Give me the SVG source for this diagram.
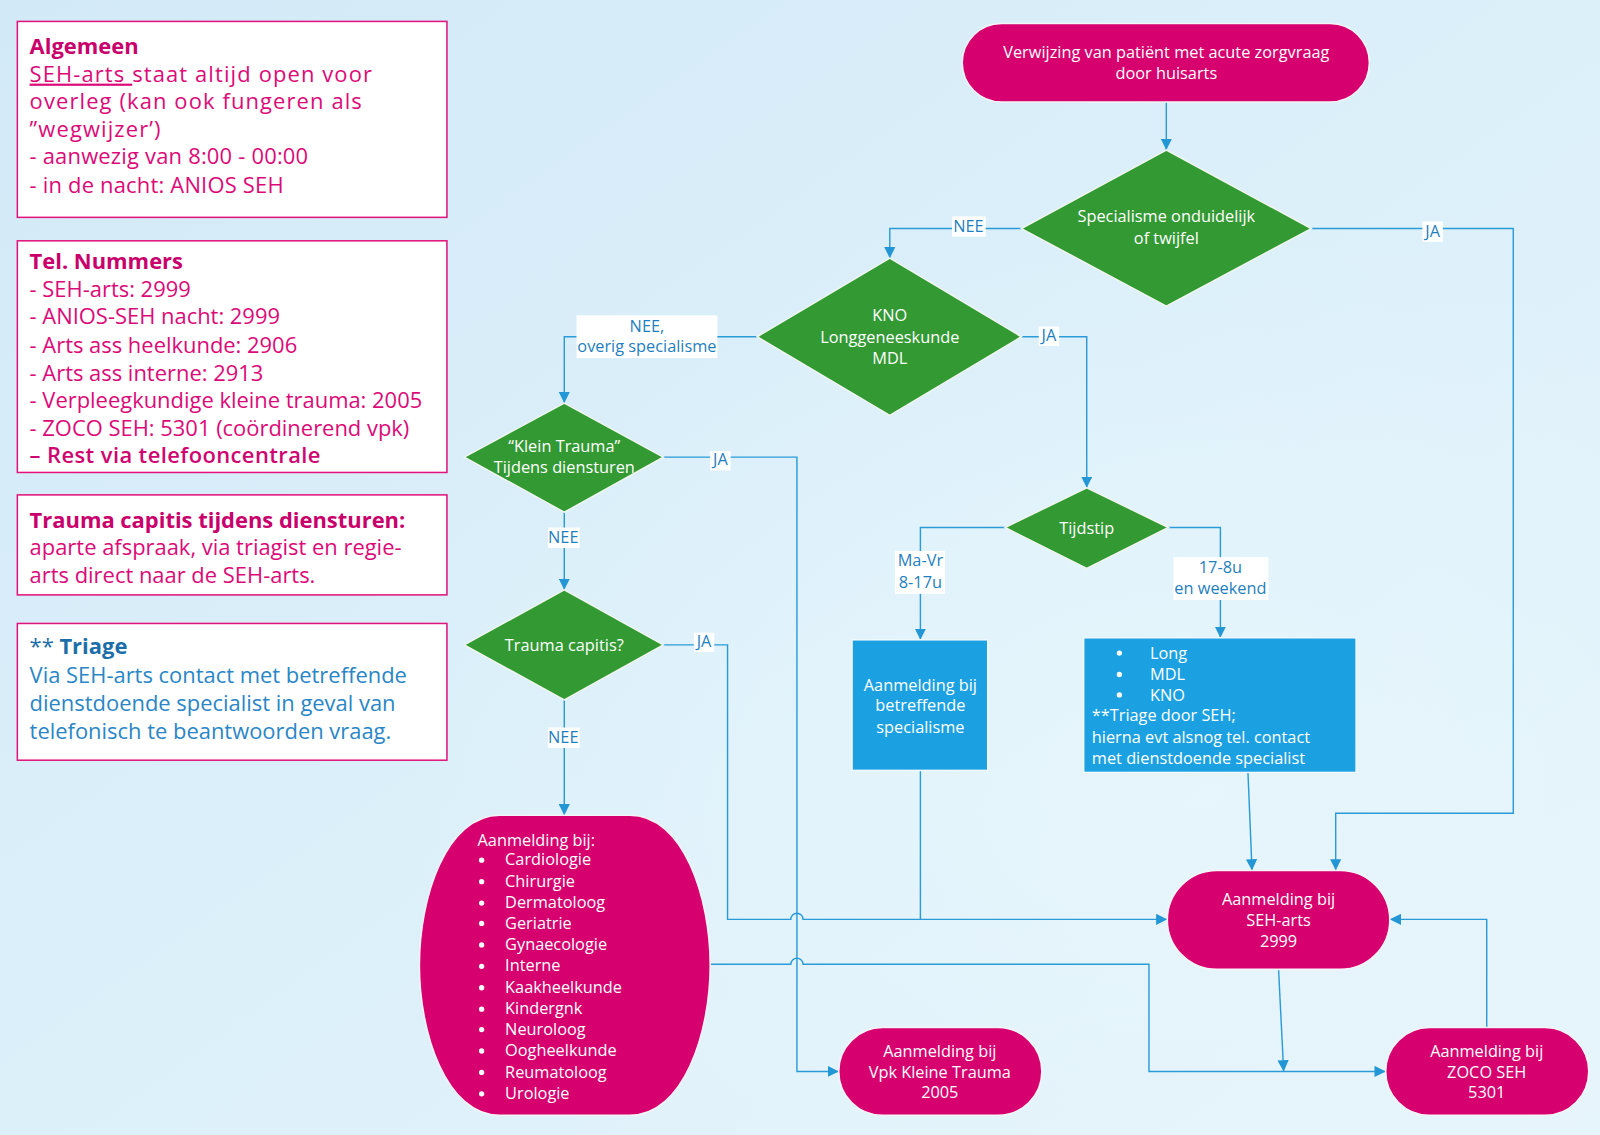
<svg xmlns="http://www.w3.org/2000/svg" width="1600" height="1135" viewBox="0 0 1600 1135">
<defs>
<linearGradient id="bg" x1="0" y1="0" x2="1" y2="1">
<stop offset="0" stop-color="#d2e9f7"/>
<stop offset="0.5" stop-color="#dcf0fa"/>
<stop offset="1" stop-color="#e6f4fb"/>
</linearGradient>
<radialGradient id="glow" cx="0.75" cy="0.7" r="0.5">
<stop offset="0" stop-color="#e8f6fc" stop-opacity="0.8"/>
<stop offset="1" stop-color="#e8f6fc" stop-opacity="0"/>
</radialGradient>
<marker id="ar" viewBox="0 0 10 10" refX="10" refY="5" markerWidth="11" markerHeight="11" markerUnits="userSpaceOnUse" orient="auto">
<path d="M0,0 L10,5 L0,10 z" fill="#2396d6"/>
</marker>
<style>
.box{fill:#ffffff;stroke:#e2137d;stroke-width:1.5}
.pk{font-family:"Open Sans","Noto Sans",sans-serif;font-size:21.5px;fill:#dc0a78}
.pkl{font-family:"Open Sans","Noto Sans",sans-serif;font-size:21.5px;letter-spacing:1.1px;fill:#dc0a78}
.pkh{font-family:"Open Sans","Noto Sans",sans-serif;font-size:21.5px;font-weight:bold;fill:#c9006b}
.bl{font-family:"Open Sans","Noto Sans",sans-serif;font-size:21.5px;fill:#2a86c6}
.blh{font-family:"Open Sans","Noto Sans",sans-serif;font-size:21.5px;font-weight:bold;fill:#1c6ea8}
.pill{fill:#d6006e;stroke:#f4f4f8;stroke-width:1.5}
.dia{fill:#339933;stroke:#eef6ee;stroke-width:1.5}
.blue{fill:#1ba1e2;stroke:#f0f8fd;stroke-width:1.5}
.nt{font-family:"Open Sans","Noto Sans",sans-serif;font-size:16px;fill:#ffffff}
.ntc{font-family:"Open Sans","Noto Sans",sans-serif;font-size:16px;fill:#ffffff;text-anchor:middle}
.con{fill:none;stroke:#2a9bd8;stroke-width:1.4}
.lb{fill:#ffffff}
.lt{font-family:"Open Sans","Noto Sans",sans-serif;font-size:16px;fill:#1f7fbf;text-anchor:middle}
</style>
</defs>
<rect x="0" y="0" width="1600" height="1135" fill="url(#bg)"/>
<rect x="0" y="0" width="1600" height="1135" fill="url(#glow)"/>
<g transform="scale(1.0204)">

<!-- Info boxes -->
<g id="info-algemeen">
<rect class="box" x="17" y="21" width="421" height="192"/>
<text class="pkh" x="29" y="53">Algemeen</text>
<text class="pkl" x="29" y="80"><tspan text-decoration="underline">SEH-arts </tspan>staat altijd open voor</text>
<text class="pkl" x="29" y="107">overleg (kan ook fungeren als</text>
<text class="pkl" x="29" y="134">”wegwijzer’)</text>
<text class="pk" x="29" y="161" letter-spacing="0.2">- aanwezig van 8:00 - 00:00</text>
<text class="pk" x="29" y="189" letter-spacing="0.2">- in de nacht: ANIOS SEH</text>
</g>
<g id="info-tel">
<rect class="box" x="17" y="236" width="421" height="227"/>
<text class="pkh" x="29" y="264">Tel. Nummers</text>
<text class="pk" x="29" y="291" font-size="20.5">- SEH-arts: 2999</text>
<text class="pk" x="29" y="318" font-size="20.5">- ANIOS-SEH nacht: 2999</text>
<text class="pk" x="29" y="346" font-size="20.5">- Arts ass heelkunde: 2906</text>
<text class="pk" x="29" y="373" font-size="20.5">- Arts ass interne: 2913</text>
<text class="pk" x="29" y="400" font-size="20.5">- Verpleegkundige kleine trauma: 2005</text>
<text class="pk" x="29" y="427" font-size="20.5">- ZOCO SEH: 5301 (coördinerend vpk)</text>
<text class="pk" x="29" y="454" font-weight="600" letter-spacing="0.4" style="fill:#cf0570">– Rest via telefooncentrale</text>
</g>
<g id="info-trauma">
<rect class="box" x="17" y="485" width="421" height="98"/>
<text class="pkh" x="29" y="517" font-size="21">Trauma capitis tijdens diensturen:</text>
<text class="pk" x="29" y="544">aparte afspraak, via triagist en regie-</text>
<text class="pk" x="29" y="571">arts direct naar de SEH-arts.</text>
</g>
<g id="info-triage">
<rect class="box" x="17" y="611" width="421" height="134"/>
<text class="blh" x="29" y="641"><tspan font-weight="normal">** </tspan>Triage</text>
<text class="bl" x="29" y="669">Via SEH-arts contact met betreffende</text>
<text class="bl" x="29" y="697">dienstdoende specialist in geval van</text>
<text class="bl" x="29" y="724">telefonisch te beantwoorden vraag.</text>
</g>

<!-- Connectors -->
<g id="connectors">
<path class="con" d="M1143 100 V147" marker-end="url(#ar)"/>
<path class="con" d="M1001 224 H872 V253" marker-end="url(#ar)"/>
<path class="con" d="M1285 224 H1483 V797 H1309 V853" marker-end="url(#ar)"/>
<path class="con" d="M742 330 H553 V395" marker-end="url(#ar)"/>
<path class="con" d="M1001 330 H1065 V478" marker-end="url(#ar)"/>
<path class="con" d="M650 448 H781 V1050 H822" marker-end="url(#ar)"/>
<path class="con" d="M553 502 V578" marker-end="url(#ar)"/>
<path class="con" d="M650 632 H713 V901 H775 A6 6 0 0 1 787 901 H1144" marker-end="url(#ar)"/>
<path class="con" d="M553 686 V799" marker-end="url(#ar)"/>
<path class="con" d="M696 945 H775 A6 6 0 0 1 787 945 H1126 V1050 H1358" marker-end="url(#ar)"/>
<path class="con" d="M985 517 H902 V627" marker-end="url(#ar)"/>
<path class="con" d="M1145 517 H1196 V625" marker-end="url(#ar)"/>
<path class="con" d="M902 755 V901"/>
<path class="con" d="M1223 757 L1227 853" marker-end="url(#ar)"/>
<path class="con" d="M1253 950 L1258 1050" marker-end="url(#ar)"/>
<path class="con" d="M1457 1007 V901 H1362" marker-end="url(#ar)"/>
<!-- labels -->
<rect class="lb" x="933" y="212" width="33" height="20"/>
<text class="lt" x="949" y="227">NEE</text>
<rect class="lb" x="1394" y="217" width="20" height="20"/>
<text class="lt" x="1404" y="232">JA</text>
<rect class="lb" x="565" y="309" width="138" height="42"/>
<text class="lt" x="634" y="325">NEE,</text>
<text class="lt" x="634" y="345">overig specialisme</text>
<rect class="lb" x="1018" y="320" width="20" height="19"/>
<text class="lt" x="1028" y="334">JA</text>
<rect class="lb" x="696" y="442" width="20" height="19"/>
<text class="lt" x="706" y="456">JA</text>
<rect class="lb" x="537" y="517" width="31" height="20"/>
<text class="lt" x="552" y="532">NEE</text>
<rect class="lb" x="680" y="620" width="20" height="19"/>
<text class="lt" x="690" y="634">JA</text>
<rect class="lb" x="537" y="713" width="31" height="20"/>
<text class="lt" x="552" y="728">NEE</text>
<rect class="lb" x="877" y="540" width="49" height="42"/>
<text class="lt" x="902" y="555">Ma-Vr</text>
<text class="lt" x="902" y="576">8-17u</text>
<rect class="lb" x="1150" y="546" width="93" height="42"/>
<text class="lt" x="1196" y="562">17-8u</text>
<text class="lt" x="1196" y="582">en weekend</text>
</g>

<!-- Nodes -->
<g id="start">
<rect class="pill" x="943" y="23" width="399" height="77" rx="38.5"/>
<text class="ntc" x="1143" y="57">Verwijzing van patiënt met acute zorgvraag</text>
<text class="ntc" x="1143" y="77">door huisarts</text>
</g>
<g id="d-specialisme">
<polygon class="dia" points="1143,147 1285,224 1143,300 1001,224"/>
<text class="ntc" x="1143" y="218">Specialisme onduidelijk</text>
<text class="ntc" x="1143" y="239">of twijfel</text>
</g>
<g id="d-kno">
<polygon class="dia" points="872,253 1001,330 872,407 742,330"/>
<text class="ntc" x="872" y="315">KNO</text>
<text class="ntc" x="872" y="336">Longgeneeskunde</text>
<text class="ntc" x="872" y="357">MDL</text>
</g>
<g id="d-kleintrauma">
<polygon class="dia" points="553,395 650,448 553,502 455,448"/>
<text class="ntc" x="553" y="443">“Klein Trauma”</text>
<text class="ntc" x="553" y="464">Tijdens diensturen</text>
</g>
<g id="d-traumacapitis">
<polygon class="dia" points="553,578 650,632 553,686 455,632"/>
<text class="ntc" x="553" y="638">Trauma capitis?</text>
</g>
<g id="d-tijdstip">
<polygon class="dia" points="1065,478 1145,517 1065,557 985,517"/>
<text class="ntc" x="1065" y="523">Tijdstip</text>
</g>
<g id="b-betreffende">
<rect class="blue" x="835" y="627" width="133" height="128"/>
<text class="ntc" x="902" y="677">Aanmelding bij</text>
<text class="ntc" x="902" y="697">betreffende</text>
<text class="ntc" x="902" y="718">specialisme</text>
</g>
<g id="b-triage">
<rect class="blue" x="1062" y="625" width="267" height="132"/>
<circle cx="1097" cy="640" r="2.6" fill="#fff"/>
<circle cx="1097" cy="661" r="2.6" fill="#fff"/>
<circle cx="1097" cy="681" r="2.6" fill="#fff"/>
<text class="nt" x="1127" y="646">Long</text>
<text class="nt" x="1127" y="666">MDL</text>
<text class="nt" x="1127" y="687">KNO</text>
<text class="nt" x="1070" y="707">**Triage door SEH;</text>
<text class="nt" x="1070" y="728">hierna evt alsnog tel. contact</text>
<text class="nt" x="1070" y="749">met dienstdoende specialist</text>
</g>
<g id="p-specialismen">
<path class="pill" d="M490 799 H617 C670 799 696 880 696 946 C696 1012 670 1093 617 1093 H490 C437 1093 411 1012 411 946 C411 880 437 799 490 799 Z"/>
<text class="nt" x="468" y="829">Aanmelding bij:</text>
<g fill="#fff">
<circle cx="472" cy="843" r="2.6"/>
<circle cx="472" cy="864" r="2.6"/>
<circle cx="472" cy="885" r="2.6"/>
<circle cx="472" cy="905" r="2.6"/>
<circle cx="472" cy="926" r="2.6"/>
<circle cx="472" cy="947" r="2.6"/>
<circle cx="472" cy="968" r="2.6"/>
<circle cx="472" cy="989" r="2.6"/>
<circle cx="472" cy="1009" r="2.6"/>
<circle cx="472" cy="1030" r="2.6"/>
<circle cx="472" cy="1051" r="2.6"/>
<circle cx="472" cy="1072" r="2.6"/>
</g>
<text class="nt" x="495" y="848">Cardiologie</text>
<text class="nt" x="495" y="869">Chirurgie</text>
<text class="nt" x="495" y="890">Dermatoloog</text>
<text class="nt" x="495" y="910">Geriatrie</text>
<text class="nt" x="495" y="931">Gynaecologie</text>
<text class="nt" x="495" y="952">Interne</text>
<text class="nt" x="495" y="973">Kaakheelkunde</text>
<text class="nt" x="495" y="994">Kindergnk</text>
<text class="nt" x="495" y="1014">Neuroloog</text>
<text class="nt" x="495" y="1035">Oogheelkunde</text>
<text class="nt" x="495" y="1056">Reumatoloog</text>
<text class="nt" x="495" y="1077">Urologie</text>
</g>
<g id="p-seh">
<rect class="pill" x="1144" y="853" width="218" height="97" rx="48.5"/>
<text class="ntc" x="1253" y="887">Aanmelding bij</text>
<text class="ntc" x="1253" y="907">SEH-arts</text>
<text class="ntc" x="1253" y="928">2999</text>
</g>
<g id="p-zoco">
<rect class="pill" x="1358" y="1007" width="199" height="86" rx="43"/>
<text class="ntc" x="1457" y="1036">Aanmelding bij</text>
<text class="ntc" x="1457" y="1056">ZOCO SEH</text>
<text class="ntc" x="1457" y="1076">5301</text>
</g>
<g id="p-vpk">
<rect class="pill" x="822" y="1007" width="199" height="86" rx="43"/>
<text class="ntc" x="921" y="1036">Aanmelding bij</text>
<text class="ntc" x="921" y="1056">Vpk Kleine Trauma</text>
<text class="ntc" x="921" y="1076">2005</text>
</g>
</g>
</svg>
